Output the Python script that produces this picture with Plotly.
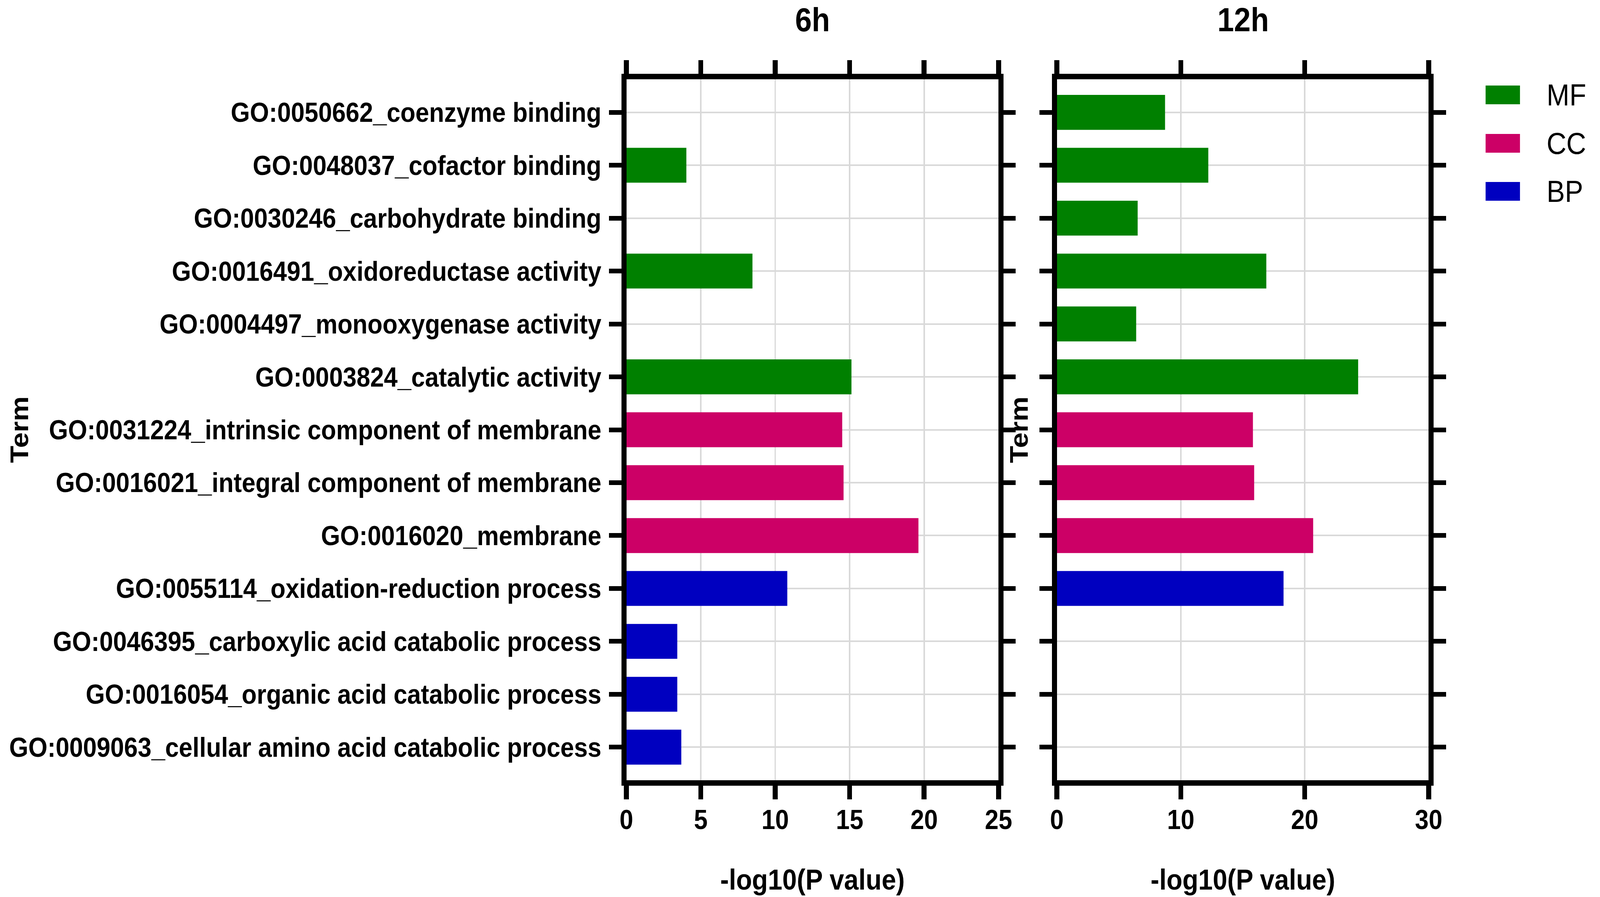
import plotly.graph_objects as go

# ---------------- data ----------------
categories = [
    "GO:0050662_coenzyme binding",
    "GO:0048037_cofactor binding",
    "GO:0030246_carbohydrate binding",
    "GO:0016491_oxidoreductase activity",
    "GO:0004497_monooxygenase activity",
    "GO:0003824_catalytic activity",
    "GO:0031224_intrinsic component of membrane",
    "GO:0016021_integral component of membrane",
    "GO:0016020_membrane",
    "GO:0055114_oxidation-reduction process",
    "GO:0046395_carboxylic acid catabolic process",
    "GO:0016054_organic acid catabolic process",
    "GO:0009063_cellular amino acid catabolic process",
]
groups = ["MF", "MF", "MF", "MF", "MF", "MF", "CC", "CC", "CC", "BP", "BP", "BP", "BP"]
values_6h = [None, 4.03, None, 8.47, None, 15.12, 14.50, 14.59, 19.62, 10.81, 3.42, 3.42, 3.69]
values_12h = [8.73, 12.22, 6.52, 16.90, 6.40, 24.31, 15.82, 15.92, 20.68, 18.29, None, None, None]
group_names = ["MF", "CC", "BP"]
group_colors = {"MF": "#008000", "CC": "#CC0066", "BP": "#0000C0"}
panel_titles = ["6h", "12h"]
x_title = "-log10(P value)"
y_title = "Term"
x_ticks_6h = [0, 5, 10, 15, 20, 25]
x_ticks_12h = [0, 10, 20, 30]
x_range_6h = [0, 25]
x_range_12h = [0, 30]

# ---------------- layout helpers ----------------
W, H = 4550, 2297
FONT = "Arial, Liberation Sans, sans-serif"


def px(x):
    return x / W


def py(y):
    return 1 - y / H


bar_colors = [group_colors[g] for g in groups]
n = len(categories)
pad = 0.625

fig = go.Figure()
fig.add_trace(go.Bar(
    x=values_6h, y=categories, orientation="h",
    marker=dict(color=bar_colors, line=dict(width=0)),
    width=0.66, xaxis="x", yaxis="y", showlegend=False,
))
fig.add_trace(go.Bar(
    x=values_12h, y=categories, orientation="h",
    marker=dict(color=bar_colors, line=dict(width=0)),
    width=0.66, xaxis="x2", yaxis="y2", showlegend=False,
))

tickfont = dict(family=FONT, size=70, color="black", weight="bold")
xcommon = dict(
    showline=True, linewidth=14, linecolor="black", mirror="ticks",
    ticks="outside", ticklen=35, tickwidth=14, tickcolor="black",
    showgrid=True, gridcolor="#d9d9d9", gridwidth=4, zeroline=False,
    tickfont=tickfont, ticklabelstandoff=-8, fixedrange=True,
)
ycommon = dict(
    type="category", categoryorder="array", categoryarray=categories,
    range=[n - 1 + pad, -pad],
    showline=True, linewidth=14, linecolor="black", mirror="ticks",
    ticks="outside", ticklen=35, tickwidth=12, tickcolor="black",
    showgrid=True, gridcolor="#d9d9d9", gridwidth=4, zeroline=False,
    tickfont=tickfont, ticklabelstandoff=8, fixedrange=True,
)

ydom = [py(1998), py(203)]
fig.update_layout(
    width=W, height=H, autosize=False,
    margin=dict(l=0, r=0, t=0, b=0, pad=0),
    paper_bgcolor="white", plot_bgcolor="white",
    barmode="overlay",
    xaxis=dict(domain=[px(1785), px(2857)], range=x_range_6h, tickvals=x_ticks_6h,
               anchor="y", **xcommon),
    xaxis2=dict(domain=[px(3025), px(4096)], range=x_range_12h, tickvals=x_ticks_12h,
                anchor="y2", **xcommon),
    yaxis=dict(domain=ydom, anchor="x", showticklabels=True, **ycommon),
    yaxis2=dict(domain=ydom, anchor="x2", showticklabels=False, **ycommon),
    showlegend=False,
)

ann = []
# panel titles
for title, cx in zip(panel_titles, [2321, 3561]):
    ann.append(dict(text=title, x=px(cx), y=py(51), xref="paper", yref="paper",
                    xanchor="center", yanchor="middle", showarrow=False,
                    font=dict(family=FONT, size=85, color="black", weight="bold")))
# x-axis titles
for cx in [2321, 3561]:
    ann.append(dict(text=x_title, x=px(cx), y=py(2252), xref="paper", yref="paper",
                    xanchor="center", yanchor="middle", showarrow=False,
                    font=dict(family=FONT, size=74, color="black", weight="bold")))
# y-axis titles
for cx in [36, 2916]:
    ann.append(dict(text=y_title, x=px(cx), y=py(1100), xref="paper", yref="paper",
                    xanchor="center", yanchor="middle", showarrow=False, textangle=-90,
                    font=dict(family=FONT, size=72, color="black", weight="bold")))

# custom legend (coloured blocks + labels)
shapes = []
legend_y = [243, 367, 490]
for name, cy in zip(group_names, legend_y):
    shapes.append(dict(type="rect", xref="paper", yref="paper",
                       x0=px(4260), x1=px(4359), y0=py(cy - 24), y1=py(cy + 24),
                       fillcolor=group_colors[name], line=dict(width=0)))
    ann.append(dict(text=name, x=px(4434), y=py(cy), xref="paper", yref="paper",
                    xanchor="left", yanchor="middle", showarrow=False,
                    font=dict(family=FONT, size=78, color="black")))

fig.update_layout(annotations=ann, shapes=shapes)

# Fit the fixed-size figure exactly to the browser viewport
# (the browser may cap the window width below the requested size).
post = """
(function(){
  var W = %d, H = %d;
  var gd = document.getElementById('{plot_id}');
  document.documentElement.style.margin = '0';
  document.documentElement.style.overflow = 'hidden';
  document.body.style.margin = '0';
  document.body.style.overflow = 'hidden';
  var iw = window.innerWidth, ih = window.innerHeight;
  var sx = iw / W, sy = ih / H;
  var wrap = gd.parentElement;
  wrap.style.width = iw + 'px';
  wrap.style.height = ih + 'px';
  wrap.style.overflow = 'hidden';
  if (Math.abs(sx - 1) > 0.002 || Math.abs(sy - 1) > 0.002) {
    gd.style.transformOrigin = '0 0';
    gd.style.transform = 'scale(' + sx + ',' + sy + ')';
  }
})();
""" % (W, H)

fig.write_html("out.html", post_script=post, config={"displayModeBar": False})
